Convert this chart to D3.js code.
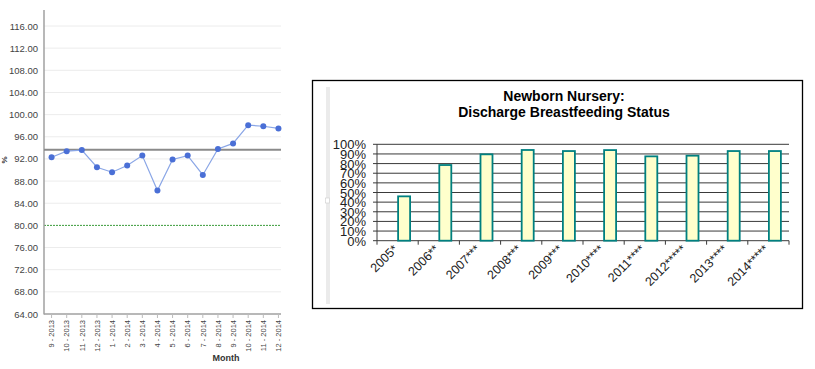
<!DOCTYPE html>
<html><head><meta charset="utf-8">
<script src="https://cdn.jsdelivr.net/npm/d3@7"></script>
<style>body{margin:0;background:#fff}svg{display:block}</style>
</head><body>
<svg id="c" width="815" height="369"></svg>
<script>
// ---- Left chart data ----
const months = ["9 - 2013","10 - 2013","11 - 2013","12 - 2013","1 - 2014","2 - 2014","3 - 2014","4 - 2014","5 - 2014","6 - 2014","7 - 2014","8 - 2014","9 - 2014","10 - 2014","11 - 2014","12 - 2014"];
const rates = [92.3,93.4,93.6,90.5,89.6,90.8,92.6,86.3,91.9,92.6,89.1,93.8,94.8,98.1,97.9,97.5];
const meanValue = 93.67;
const targetValue = 80;
const yTicksLeft = [64,68,72,76,80,84,88,92,96,100,104,108,112,116];

// ---- Right chart data ----
const years = ["2005*","2006**","2007***","2008***","2009***","2010****","2011****","2012*****","2013****","2014*****"];
const pct = [46,78.5,89.6,94.1,93,94,87.5,88.2,93,93];
const yTicksRight = [0,10,20,30,40,50,60,70,80,90,100];
const titleLines = ["Newborn Nursery:","Discharge Breastfeeding Status"];

const svg = d3.select("#c");

// ===== Left chart =====
const L = {x0:44, x1:281, y0:10, yb:314};
const yL = d3.scaleLinear().domain([64,116]).range([314,26]);
const xL = d3.scalePoint().domain(months).range([44,286]).padding(0.5);
const gl = svg.append("g");
// gridlines
gl.selectAll("line.g").data(yTicksLeft.filter(d=>d!==64 && d!==targetValue)).enter().append("line")
  .attr("x1",L.x0).attr("x2",L.x1).attr("y1",d=>yL(d)).attr("y2",d=>yL(d))
  .attr("stroke","#ececec").attr("stroke-width",1);
// y labels
gl.selectAll("text.yl").data(yTicksLeft).enter().append("text")
  .attr("x",38).attr("y",d=>yL(d)+3.5).attr("text-anchor","end")
  .attr("font-family","Arial, Liberation Sans, sans-serif").attr("font-size",9.5).attr("fill","#444")
  .text(d=>d3.format(".2f")(d));
// target line
gl.append("line").attr("x1",L.x0).attr("x2",L.x1).attr("y1",yL(targetValue)).attr("y2",yL(targetValue))
  .attr("stroke","#3a9a3a").attr("stroke-width",1).attr("stroke-dasharray","2,1");
// axes
gl.append("line").attr("x1",L.x0).attr("x2",L.x0).attr("y1",L.y0).attr("y2",L.yb+0.5).attr("stroke","#a0a0a0").attr("stroke-width",1.5);
gl.append("line").attr("x1",L.x0).attr("x2",L.x1).attr("y1",L.yb).attr("y2",L.yb).attr("stroke","#a0a0a0").attr("stroke-width",1.5);
// x ticks
gl.selectAll("line.xt").data(months).enter().append("line")
  .attr("x1",d=>xL(d)).attr("x2",d=>xL(d)).attr("y1",L.yb).attr("y2",L.yb+4).attr("stroke","#bbb");
gl.selectAll("text.xl").data(months).enter().append("text")
  .attr("transform",d=>`translate(${xL(d)+2.8},320) rotate(-90)`).attr("text-anchor","end")
  .attr("font-family","Arial, Liberation Sans, sans-serif").attr("font-size",7.5).attr("fill","#444")
  .text(d=>d);
// mean line
gl.append("line").attr("x1",L.x0).attr("x2",L.x1).attr("y1",yL(meanValue)).attr("y2",yL(meanValue))
  .attr("stroke","#8a8a8a").attr("stroke-width",2);
// series
const line = d3.line().x((d,i)=>xL(months[i])).y(d=>yL(d));
gl.append("path").datum(rates).attr("d",line).attr("fill","none").attr("stroke","#8aa6e6").attr("stroke-width",1.2);
gl.selectAll("circle").data(rates).enter().append("circle")
  .attr("cx",(d,i)=>xL(months[i])).attr("cy",d=>yL(d)).attr("r",3).attr("fill","#4a6fd6");
// axis titles
gl.append("text").attr("transform","translate(7,160) rotate(-90)").attr("text-anchor","middle")
  .attr("font-family","Arial, Liberation Sans, sans-serif").attr("font-size",8).attr("font-weight","bold").attr("fill","#333").text("%");
gl.append("text").attr("x",226).attr("y",361).attr("text-anchor","middle")
  .attr("font-family","Arial, Liberation Sans, sans-serif").attr("font-size",9).attr("font-weight","bold").attr("fill","#333").text("Month");

// ===== Right chart =====
const gr = svg.append("g");
gr.append("rect").attr("x",312.5).attr("y",80.5).attr("width",490).attr("height",228).attr("fill","#fff").attr("stroke","#000").attr("stroke-width",1.3);
gr.append("rect").attr("x",326).attr("y",87).attr("width",4).attr("height",217).attr("fill","#ebebeb");
gr.append("rect").attr("x",325.5).attr("y",198).attr("width",4).attr("height",5).attr("fill","#fff").attr("stroke","#ccc").attr("stroke-width",0.6);

titleLines.forEach((t,i)=>{
  gr.append("text").attr("x",564).attr("y",100.5+i*16).attr("text-anchor","middle")
    .attr("font-family","Arial, Liberation Sans, sans-serif").attr("font-size",14).attr("font-weight","bold").attr("fill","#000").text(t);
});
const R = {x0:377, x1:789};
const yR = d3.scaleLinear().domain([0,100]).range([240.7,144.3]);
const xR = d3.scaleBand().domain(years).range([R.x0,R.x1]);
// gridlines
gr.selectAll("line.g").data(yTicksRight).enter().append("line")
  .attr("x1",R.x0-4).attr("x2",R.x1).attr("y1",d=>yR(d)).attr("y2",d=>yR(d))
  .attr("stroke","#3a3a3a").attr("stroke-width",1);
gr.selectAll("text.yl").data(yTicksRight).enter().append("text")
  .attr("x",366).attr("y",d=>yR(d)+5).attr("text-anchor","end")
  .attr("font-family","Arial, Liberation Sans, sans-serif").attr("font-size",13).attr("fill","#222")
  .text(d=>d+"%");
// y axis
gr.append("line").attr("x1",R.x0).attr("x2",R.x0).attr("y1",yR(100)).attr("y2",yR(0)).attr("stroke","#3a3a3a");
// x ticks at boundaries
const bounds = years.map(y=>xR(y)).concat([R.x1]);
gr.selectAll("line.xt").data(bounds).enter().append("line")
  .attr("x1",d=>d).attr("x2",d=>d).attr("y1",yR(0)).attr("y2",yR(0)+4).attr("stroke","#3a3a3a");
// bars
const bw = 12;
gr.selectAll("rect.bar").data(pct).enter().append("rect")
  .attr("x",(d,i)=>xR(years[i])+xR.bandwidth()/2+0.5).attr("y",d=>yR(d)).attr("width",bw).attr("height",d=>yR(0)-yR(d))
  .attr("fill","#ffffcc").attr("stroke","#008080").attr("stroke-width",1.8);
// x labels
gr.selectAll("text.xl").data(years).enter().append("text")
  .attr("transform",d=>`translate(${xR(d)+xR.bandwidth()/2+1},250) rotate(-45)`).attr("text-anchor","end")
  .attr("font-family","Arial, Liberation Sans, sans-serif").attr("font-size",12.5).attr("fill","#222")
  .text(d=>d);
</script>
</body></html>
